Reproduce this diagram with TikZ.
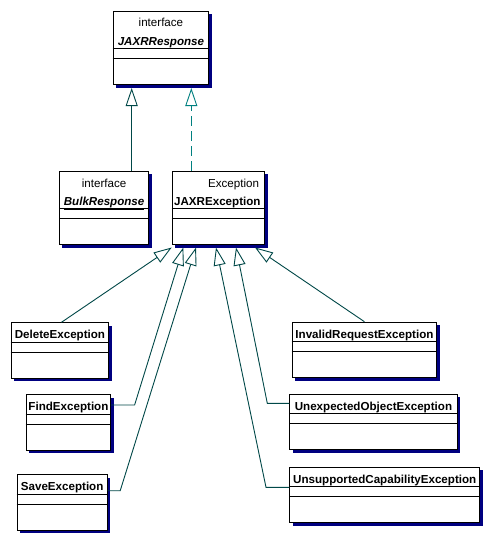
\documentclass[tikz,border=0pt]{standalone}
\usepackage{fontspec}
\setmainfont{Liberation Sans}
\usepackage{tikz}
\usetikzlibrary{positioning, arrows.meta, calc, shadows}

\definecolor{linedark}{RGB}{0,72,72}
\definecolor{lineteal}{RGB}{0,128,128}
\definecolor{shadowblue}{RGB}{0,0,128}

\begin{document}
\begin{tikzpicture}[x=1pt, y=-1pt,
    every node/.style={font=\fontsize{11.6}{14}\selectfont, inner sep=0pt},
    cls/.style={draw, fill=white, line width=0.9pt, anchor=north west,
        drop shadow={shadow xshift=3pt, shadow yshift=-3pt, fill=shadowblue, opacity=1}},
    small/.style={cls, minimum height=55.6pt},
    big/.style={cls, minimum height=73.4pt},
    txt/.style={text height=8.3pt, text depth=0pt},
    stereo/.style={txt},
    cname/.style={txt, font=\fontsize{11.6}{14}\selectfont\bfseries},
    iname/.style={txt, font=\fontsize{11.6}{14}\selectfont\bfseries\itshape},
    gen/.style={-{Triangle[open, length=18pt, width=12pt]}, line width=0.9pt, linedark},
    real/.style={gen, lineteal, dash pattern=on 10pt off 5pt}
]
    % Canvas
    \fill[white] (0,0) rectangle (492,543);
    \useasboundingbox (0,0) rectangle (492,543);

    % Interfaces and base exception
    \node[big, minimum width=95.6pt] (resp) at (112.7,10.7) {};
    \node[big, minimum width=89.3pt] (bulk) at (59,170.7) {};
    \node[big, minimum width=92.8pt] (jaxrex) at (171.5,170.7) {};

    % Subclasses
    \node[small, minimum width=97.6pt] (delete) at (10.7,322.3) {};
    \node[small, minimum width=84.6pt] (find) at (25.7,394.3) {};
    \node[small, minimum width=90pt] (save) at (16.7,474.3) {};
    \node[small, minimum width=144.6pt] (invalid) at (291.7,321.7) {};
    \node[small, minimum width=167.4pt] (unexp) at (289.3,393.7) {};
    \node[small, minimum width=190pt] (unsupp) at (289.3,466.7) {};

    % Compartment lines
    \foreach \n in {resp, bulk, jaxrex} {
        \draw[line width=0.9pt] ($(\n.north west)+(0,37.6)$) -- ($(\n.north east)+(0,37.6)$);
        \draw[line width=0.9pt] ($(\n.north west)+(0,47.6)$) -- ($(\n.north east)+(0,47.6)$);
    }
    \foreach \n in {delete, find, save, invalid, unexp, unsupp} {
        \draw[line width=0.9pt] ($(\n.north west)+(0,20.2)$) -- ($(\n.north east)+(0,20.2)$);
        \draw[line width=0.9pt] ($(\n.north west)+(0,29.9)$) -- ($(\n.north east)+(0,29.9)$);
    }

    % Names
    \node[stereo] (respst) at ($(resp.north)+(0,12)$) {interface};
    \node[iname] (respnm) at ($(resp.north)+(0,31)$) {JAXRResponse};
    \node[stereo] (bulkst) at ($(bulk.north)+(0,12.3)$) {interface};
    \node[iname] (bulknm) at ($(bulk.north)+(0,31)$) {\underline{BulkResponse}};
    \node[stereo, anchor=east] (jaxrst) at ($(jaxrex.north east)+(-6,12.3)$) {Exception};
    \node[cname] (jaxrnm) at ($(jaxrex.north)+(-1,31)$) {JAXRException};
    \node[cname] (deletenm) at ($(delete.north)+(0,12.4)$) {DeleteException};
    \node[cname] (findnm) at ($(find.north)+(0,12.4)$) {FindException};
    \node[cname] (savenm) at ($(save.north)+(0,12.4)$) {SaveException};
    \node[cname] (invalidnm) at ($(invalid.north)+(0,12.4)$) {InvalidRequestException};
    \node[cname] (unexpnm) at ($(unexp.north)+(0,12.4)$) {UnexpectedObjectException};
    \node[cname] (unsuppnm) at ($(unsupp.north)+(0,12.4)$) {UnsupportedCapabilityException};

    % Generalizations to JAXRResponse
    \coordinate (bulktop) at ($(bulk.north west)+(72.7,0)$);
    \coordinate (jaxrtop) at ($(jaxrex.north west)+(19.8,0)$);
    \draw[gen] (bulktop) -- ($(bulktop |- resp.south)+(0,3)$);
    \draw[real] (jaxrtop) -- ($(jaxrtop |- resp.south)+(0,3)$);

    % Generalizations to JAXRException
    \draw[gen] ($(delete.north)+(1.5,0)$) -- ($(jaxrex.south west)+(0.2,2.5)$);
    \draw[gen] ($(find.north east)+(0,10.7)$) -- ++(23.4,0) -- ($(jaxrex.south west)+(11.8,2.5)$);
    \draw[gen] ($(save.north east)+(0,16.4)$) -- ++(12.6,0) -- ($(jaxrex.south west)+(24.5,2.5)$);
    \draw[gen] ($(unsupp.north west)+(0,20.6)$) -- ++(-23.3,0) -- ($(jaxrex.south west)+(44.5,2.5)$);
    \draw[gen] ($(unexp.north west)+(0,9.6)$) -- ++(-22,0) -- ($(jaxrex.south west)+(64.5,2.5)$);
    \draw[gen] (invalid.north) -- ($(jaxrex.south west)+(83.5,2.5)$);
\end{tikzpicture}
\end{document}
